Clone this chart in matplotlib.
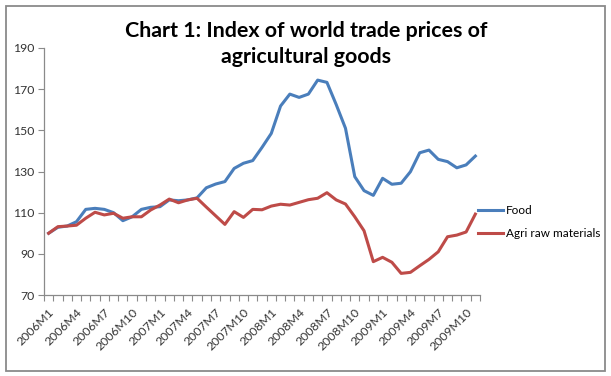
import matplotlib
matplotlib.use("Agg")
import matplotlib.pyplot as plt
from matplotlib.patches import Rectangle

months = [f"{y}M{m}" for y in range(2006, 2010) for m in range(1, 13)][:47]

food = [100.0, 102.9, 103.5, 105.6, 111.6, 112.1, 111.6, 110.0, 106.1, 108.0,
        111.6, 112.6, 112.9, 116.2, 115.8, 116.2, 117.2, 122.1, 123.9, 125.1,
        131.5, 134.0, 135.3, 141.7, 148.5, 161.8, 167.6, 166.0, 167.6, 174.4,
        173.3, 162.5, 151.0, 127.5, 120.7, 118.4, 126.7, 123.8, 124.3, 129.9,
        139.1, 140.4, 135.9, 134.8, 131.8, 133.2, 137.5]

agri = [100.0, 103.2, 103.5, 103.9, 107.3, 110.2, 108.9, 109.7, 107.3, 108.0,
        108.0, 111.3, 113.7, 116.6, 114.8, 116.2, 117.0, 112.7, 108.5, 104.3,
        110.5, 107.7, 111.6, 111.4, 113.2, 114.1, 113.7, 115.0, 116.3, 117.0,
        119.7, 116.2, 114.2, 108.0, 101.2, 86.2, 88.3, 85.9, 80.5, 81.0,
        84.2, 87.3, 91.0, 98.3, 99.1, 100.6, 109.3]

yticks = [70, 90, 110, 130, 150, 170, 190]
title = "Chart 1: Index of world trade prices of\nagricultural goods"

W, H = 611, 376
fig = plt.figure(figsize=(W / 100, H / 100), dpi=100)
fig.patch.set_facecolor("white")

fig.patches.append(Rectangle((6 / W, 1 - 371 / H), 599 / W, 365 / H,
                             transform=fig.transFigure, fill=False,
                             edgecolor="#8a8a8a", linewidth=1.3))

ax = fig.add_axes([44 / W, 1 - 295 / H, (480 - 44) / W, (295 - 48) / H])
x = list(range(len(months)))
ax.plot(x, food, color="#4A7EBB", lw=2.2, label="Food", solid_joinstyle="round")
ax.plot(x, agri, color="#BE4B48", lw=2.2, label="Agri raw materials", solid_joinstyle="round")

ax.set_xlim(-0.5, len(months) - 0.5)
ax.set_ylim(70, 190)
ax.set_yticks(yticks)
ax.set_yticklabels([str(v) for v in yticks], fontsize=8.8, color="#333333",
                   family="Lato")
ax.tick_params(axis="y", length=4, color="#8a8a8a", width=0.8, pad=3)

major = list(range(0, len(months), 3))
ax.set_xticks(major)
ax.set_xticklabels([months[i] for i in major], rotation=45, ha="right",
                   rotation_mode="anchor", fontsize=8.8, color="#333333",
                   family="Lato")
ax.tick_params(axis="x", which="major", length=0, pad=8)
ax.set_xticks([i - 0.5 for i in range(len(months) + 1)], minor=True)
ax.tick_params(axis="x", which="minor", length=4, color="#8a8a8a", width=0.8)

for s in ["top", "right"]:
    ax.spines[s].set_visible(False)
for s in ["left", "bottom"]:
    ax.spines[s].set_color("#8a8a8a")
    ax.spines[s].set_linewidth(0.9)

fig.legend(loc="upper left", bbox_to_anchor=(478 / W, 1 - 205 / H),
           frameon=False, handlelength=2.1, handletextpad=0.25, borderpad=0,
           borderaxespad=0, labelspacing=1.0,
           prop={"family": "Lato", "size": 8.5})

fig.text(306 / W, 1 - 44 / H, title, ha="center", va="center",
         fontsize=15.4, fontweight="bold", family="Lato", linespacing=1.35)

fig.savefig("out.png", dpi=100, facecolor="white")
